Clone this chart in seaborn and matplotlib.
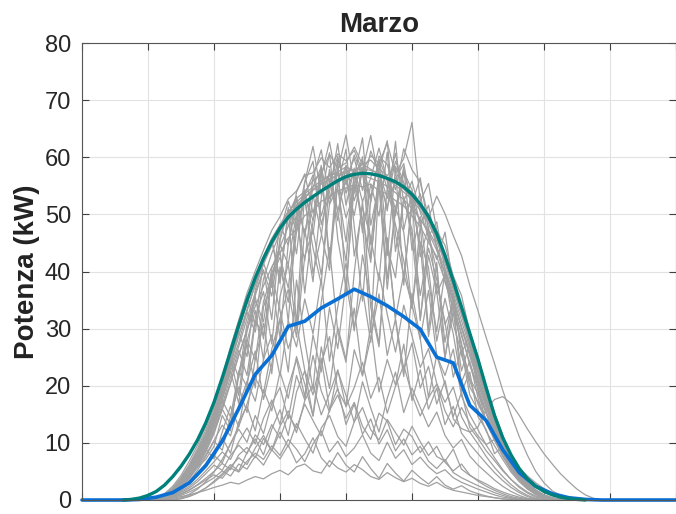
import numpy as np
import pandas as pd
import matplotlib
matplotlib.use("Agg")
import matplotlib.pyplot as plt
import seaborn as sns

# daily profiles, 15 min steps from 06:00 to 19:45
hours = np.arange(6.0, 20.0, 0.25)

clear_days = [
    [0, 0.2, 0.8, 1.8, 3.4, 5.5, 8.0, 11.2,
     15.0, 19.5, 24.8, 30.0, 34.6, 38.8, 42.5, 45.4,
     47.9, 50.0, 51.6, 53.1, 54.4, 55.3, 56.2, 56.9,
     57.5, 57.8, 58.0, 57.7, 57.2, 56.5, 55.6, 54.4,
     53.0, 51.2, 48.9, 45.8, 42.0, 37.5, 32.8, 28.0,
     23.2, 18.6, 14.3, 10.5, 7.4, 4.9, 3.0, 1.7,
     0.9, 0.4, 0.1, 0, 0, 0, 0, 0],
    [0, 0.1, 0.5, 1.4, 2.8, 4.9, 7.5, 10.4,
     14.2, 18.8, 23.6, 28.9, 33.0, 37.9, 41.6, 44.9,
     47.3, 50.1, 52.8, 54.0, 55.9, 57.2, 60.5, 58.1,
     59.0, 61.8, 58.7, 59.5, 57.9, 56.8, 58.4, 55.1,
     53.9, 52.0, 49.3, 46.6, 41.9, 38.4, 33.1, 28.6,
     22.8, 18.9, 13.7, 10.1, 7.0, 4.6, 2.8, 1.5,
     0.7, 0.3, 0.1, 0, 0, 0, 0, 0],
    [0, 0.1, 0.4, 1.1, 2.3, 4.1, 6.3, 9.0,
     12.3, 16.2, 20.6, 25.4, 29.8, 33.9, 37.5, 40.8,
     43.2, 45.9, 47.4, 49.8, 50.6, 52.3, 53.0, 54.1,
     54.6, 55.2, 54.8, 55.3, 54.1, 53.6, 52.4, 51.5,
     49.7, 47.9, 45.1, 42.6, 38.4, 34.9, 30.2, 25.8,
     21.4, 16.9, 13.1, 9.6, 6.7, 4.4, 2.6, 1.4,
     0.6, 0.2, 0.1, 0, 0, 0, 0, 0],
    [0, 0.3, 1.1, 2.4, 4.3, 6.8, 9.6, 12.9,
     17.1, 21.4, 26.8, 31.5, 36.2, 40.1, 43.7, 47.2,
     49.6, 52.7, 54.1, 56.8, 57.3, 59.9, 58.2, 60.6,
     59.4, 61.2, 57.6, 60.3, 58.9, 62.5, 57.1, 59.8,
     66.1, 52.3, 55.4, 47.1, 44.6, 39.2, 35.8, 29.4,
     25.1, 19.7, 15.2, 11.3, 7.9, 5.1, 3.1, 1.8,
     0.9, 0.4, 0.1, 0, 0, 0, 0, 0],
    [0, 0.1, 0.6, 1.5, 2.9, 4.2, 5.8, 7.1,
     9.4, 14.8, 12.1, 22.6, 19.8, 31.4, 28.9, 38.6,
     44.8, 41.2, 50.3, 53.7, 48.9, 55.8, 56.9, 57.4,
     58.3, 57.6, 58.8, 57.9, 57.0, 56.2, 55.1, 53.9,
     52.6, 50.7, 48.4, 45.3, 41.5, 36.9, 32.4, 27.7,
     22.9, 18.1, 13.9, 10.2, 7.1, 4.7, 2.9, 1.6,
     0.8, 0.3, 0.1, 0, 0, 0, 0, 0],
    [0, 0.2, 0.9, 2.0, 3.8, 6.0, 8.6, 11.7,
     15.6, 20.2, 25.1, 30.3, 35.0, 39.1, 42.6, 45.8,
     48.2, 50.5, 52.1, 53.6, 54.8, 55.9, 56.7, 57.3,
     56.1, 49.8, 57.9, 42.3, 55.6, 38.7, 51.2, 46.9,
     33.5, 48.1, 29.7, 41.6, 24.8, 35.2, 18.9, 22.4,
     14.6, 12.3, 8.1, 9.4, 5.2, 3.6, 2.1, 1.2,
     0.6, 0.2, 0.1, 0, 0, 0, 0, 0],
    [0, 0.1, 0.7, 1.7, 3.2, 5.3, 7.8, 10.8,
     14.4, 18.9, 23.9, 28.8, 33.4, 37.6, 41.3, 44.5,
     47.1, 49.3, 51.4, 52.9, 54.2, 55.4, 56.1, 56.8,
     57.2, 57.1, 56.9, 56.3, 55.7, 54.9, 53.8, 52.6,
     51.0, 49.2, 46.8, 43.7, 39.6, 35.1, 30.4, 25.9,
     21.2, 16.8, 12.7, 9.3, 6.4, 4.2, 2.5, 1.3,
     0.6, 0.2, 0, 0, 0, 0, 0, 0],
]

cloudy_days = [
    [0, 0.1, 0.4, 1.0, 2.1, 3.7, 5.9, 8.4,
     11.6, 15.9, 13.2, 21.7, 27.4, 19.6, 33.8, 38.1,
     28.4, 44.9, 51.7, 36.2, 48.8, 58.6, 42.1, 55.3,
     61.4, 47.9, 34.8, 52.6, 59.7, 44.3, 38.9, 53.1,
     46.2, 31.7, 42.8, 36.4, 24.9, 33.1, 27.5, 19.8,
     17.2, 14.1, 10.9, 8.2, 5.6, 3.7, 2.2, 1.1,
     0.5, 0.2, 0, 0, 0, 0, 0, 0],
    [0, 0.2, 0.7, 1.6, 3.0, 4.8, 7.2, 9.9,
     13.5, 17.8, 22.6, 16.9, 27.8, 33.2, 24.5, 39.7,
     43.6, 31.2, 49.5, 53.8, 39.6, 46.2, 57.9, 50.4,
     41.8, 56.7, 63.4, 48.1, 55.2, 36.9, 50.8, 58.3,
     43.7, 49.6, 38.2, 29.5, 40.1, 32.8, 22.6, 27.4,
     19.1, 13.6, 11.8, 8.7, 6.0, 3.9, 2.3, 1.2,
     0.6, 0.2, 0, 0, 0, 0, 0, 0],
    [0, 0.1, 0.3, 0.9, 1.9, 3.3, 5.2, 7.6,
     10.3, 8.7, 14.6, 19.8, 15.3, 24.7, 30.9, 22.1,
     35.6, 41.3, 29.8, 47.5, 38.2, 52.9, 60.8, 45.7,
     37.4, 55.1, 49.3, 41.6, 57.8, 62.9, 46.5, 39.2,
     51.4, 44.8, 28.6, 37.9, 31.2, 21.5, 26.3, 18.4,
     15.7, 12.0, 9.5, 7.1, 4.9, 3.2, 1.9, 1.0,
     0.4, 0.1, 0, 0, 0, 0, 0, 0],
    [0, 0.1, 0.5, 1.2, 2.4, 4.0, 6.1, 8.9,
     7.2, 11.9, 16.4, 12.8, 20.5, 26.1, 17.6, 23.8,
     31.7, 22.4, 38.5, 27.9, 19.3, 34.6, 44.2, 29.5,
     24.1, 39.8, 52.3, 33.7, 26.8, 45.9, 31.4, 21.6,
     36.2, 28.3, 17.9, 25.4, 20.2, 14.6, 18.9, 12.7,
     10.8, 8.6, 6.9, 5.1, 3.6, 2.4, 1.4, 0.7,
     0.3, 0.1, 0, 0, 0, 0, 0, 0],
    [0, 0, 0, 0.1, 0.4, 1.0, 1.9, 3.2,
     4.9, 7.1, 9.8, 12.9, 16.8, 21.3, 18.7, 26.4,
     31.8, 36.9, 28.5, 42.7, 47.3, 39.4, 51.8, 54.6,
     45.2, 56.9, 59.4, 52.1, 60.2, 58.7, 54.3, 61.5,
     57.8, 55.6, 49.4, 53.2, 50.1, 46.3, 42.8, 37.6,
     33.1, 28.4, 23.9, 19.2, 15.0, 11.1, 7.8, 5.0,
     3.0, 1.6, 0.8, 0.3, 0.1, 0, 0, 0],
    [0, 0, 0, 0, 0.2, 0.6, 1.2, 2.1,
     3.3, 4.6, 6.2, 5.1, 8.3, 10.7, 7.9, 12.4,
     15.8, 11.3, 18.9, 22.6, 14.7, 26.8, 19.5, 30.2,
     24.7, 33.6, 21.9, 28.4, 36.1, 25.3, 31.7, 22.8,
     27.5, 19.6, 23.4, 16.8, 20.9, 14.2, 12.5, 11.9,
     12.8, 15.9, 17.6, 18.1, 16.9, 14.8, 12.4, 10.2,
     8.1, 6.3, 4.6, 3.2, 1.9, 0.9, 0.3, 0],
    [0, 0.2, 0.8, 1.9, 3.5, 5.6, 8.2, 11.3,
     15.1, 19.7, 24.9, 18.3, 29.6, 35.8, 40.3, 31.6,
     45.9, 50.7, 43.1, 55.6, 59.3, 48.2, 53.9, 62.4,
     51.6, 58.1, 46.8, 55.3, 49.7, 60.9, 43.5, 52.7,
     47.3, 35.8, 44.1, 38.6, 30.7, 34.2, 26.9, 21.3,
     18.6, 15.2, 11.4, 8.5, 5.8, 3.8, 2.2, 1.1,
     0.5, 0.2, 0, 0, 0, 0, 0, 0],
    [0, 0.1, 0.4, 1.2, 2.5, 4.3, 6.6, 9.4,
     12.8, 16.7, 21.5, 26.2, 21.8, 31.9, 36.5, 27.3,
     40.8, 34.6, 46.9, 52.4, 44.1, 37.8, 56.2, 48.9,
     58.6, 42.7, 51.3, 45.8, 38.4, 54.7, 48.2, 41.9,
     33.6, 45.2, 40.7, 27.8, 35.3, 29.1, 20.6, 24.3,
     17.9, 13.4, 10.6, 7.8, 5.4, 3.5, 2.0, 1.0,
     0.4, 0.1, 0, 0, 0, 0, 0, 0],
    [0, 0.1, 0.6, 1.4, 2.7, 4.5, 6.9, 9.7,
     13.1, 17.4, 14.6, 22.3, 28.1, 24.5, 34.8, 39.2,
     42.5, 37.1, 48.6, 41.9, 53.4, 46.7, 40.2, 55.9,
     49.4, 53.8, 60.1, 44.7, 57.2, 50.6, 62.8, 47.3,
     54.1, 42.6, 47.9, 36.1, 39.5, 30.8, 25.7, 28.9,
     20.4, 16.3, 12.5, 9.2, 6.3, 4.1, 2.4, 1.2,
     0.5, 0.2, 0, 0, 0, 0, 0, 0],
    [0, 0.2, 0.9, 2.1, 3.9, 6.2, 9.0, 12.3,
     16.2, 21.1, 26.4, 31.2, 35.9, 30.4, 42.1, 45.6,
     38.7, 49.8, 53.2, 46.1, 56.4, 61.3, 52.7, 57.6,
     63.9, 55.4, 58.2, 52.9, 59.6, 56.1, 49.8, 57.3,
     52.4, 48.6, 50.2, 44.3, 40.6, 36.2, 31.4, 26.7,
     22.1, 17.5, 13.4, 9.9, 6.9, 4.5, 2.7, 1.4,
     0.7, 0.3, 0.1, 0, 0, 0, 0, 0],
    [0, 0.1, 0.6, 1.5, 2.9, 4.8, 7.3, 10.2,
     13.9, 18.2, 23.1, 27.6, 32.9, 29.4, 38.7, 43.2,
     46.8, 52.3, 48.1, 55.7, 61.9, 53.4, 57.2, 50.6,
     56.3, 59.8, 54.2, 61.1, 57.4, 52.8, 59.3, 55.6,
     51.9, 56.4, 47.2, 44.5, 38.1, 33.7, 29.2, 23.6,
     19.4, 15.1, 11.6, 8.4, 5.9, 3.8, 2.2, 1.1,
     0.5, 0.2, 0, 0, 0, 0, 0, 0],
    [0, 0.1, 0.4, 1.1, 2.2, 3.9, 6.0, 8.7,
     12.0, 15.8, 20.4, 25.3, 29.7, 34.9, 31.2, 40.6,
     44.3, 47.9, 52.6, 46.4, 54.8, 58.3, 51.7, 59.6,
     55.2, 60.4, 56.8, 53.1, 58.9, 54.6, 60.7, 52.3,
     55.8, 50.4, 46.1, 48.7, 40.3, 35.6, 30.1, 25.2,
     20.7, 16.2, 12.2, 8.9, 6.2, 4.0, 2.4, 1.2,
     0.6, 0.2, 0, 0, 0, 0, 0, 0],
    [0, 0.2, 0.7, 1.7, 3.2, 5.2, 7.8, 10.9,
     14.7, 19.3, 24.2, 29.5, 25.1, 36.8, 41.5, 37.2,
     48.3, 44.6, 53.9, 57.1, 50.2, 56.6, 62.7, 54.9,
     58.5, 52.4, 57.7, 63.8, 55.9, 51.3, 56.2, 58.9,
     50.7, 53.6, 45.8, 42.1, 46.9, 37.4, 32.6, 27.3,
     22.5, 17.6, 13.3, 9.7, 6.7, 4.3, 2.6, 1.3,
     0.6, 0.2, 0, 0, 0, 0, 0, 0],
    [0, 0.1, 0.5, 1.3, 2.6, 4.4, 6.8, 9.6,
     13.2, 17.5, 22.4, 26.9, 31.8, 36.3, 40.1, 35.7,
     45.4, 50.8, 47.3, 53.5, 56.9, 49.7, 55.1, 60.2,
     53.7, 57.9, 52.2, 56.4, 61.6, 55.8, 50.9, 57.5,
     54.3, 48.2, 51.6, 43.9, 39.8, 34.5, 28.7, 24.1,
     19.8, 15.5, 11.9, 8.7, 6.1, 3.9, 2.3, 1.2,
     0.5, 0.2, 0, 0, 0, 0, 0, 0],
    [0, 0.2, 0.8, 1.8, 3.4, 5.5, 8.1, 11.1,
     14.9, 19.6, 24.6, 29.8, 34.3, 38.6, 42.2, 45.5,
     37.9, 51.2, 30.6, 54.3, 46.5, 57.8, 41.3, 59.1,
     35.7, 57.6, 48.4, 29.3, 56.1, 42.8, 58.2, 37.6,
     53.2, 31.4, 46.3, 40.2, 27.6, 36.1, 25.3, 20.9,
     16.8, 13.9, 10.4, 7.6, 5.3, 3.4, 2.0, 1.0,
     0.4, 0.1, 0, 0, 0, 0, 0, 0],
]

overcast_days = [
    [0, 0, 0.1, 0.3, 0.6, 0.9, 1.3, 1.7,
     2.2, 2.6, 3.1, 2.8, 3.5, 4.1, 3.7, 4.6,
     5.2, 4.4, 5.8, 6.3, 5.1, 4.7, 6.9, 5.6,
     4.9, 6.2, 5.3, 4.1, 3.6, 4.8, 3.9, 3.2,
     3.8, 2.9, 2.4, 3.1, 2.2, 1.7, 1.4, 1.1,
     0.8, 0.6, 0.4, 0.2, 0.1, 0, 0, 0,
     0, 0, 0, 0, 0, 0, 0, 0],
    [0, 0.1, 0.3, 0.7, 1.3, 2.1, 3.2, 4.6,
     6.1, 5.2, 7.8, 9.6, 8.1, 11.4, 9.7, 13.2,
     10.8, 14.9, 12.6, 16.8, 13.9, 11.2, 15.7, 18.4,
     14.3, 17.1, 12.9, 10.6, 15.2, 13.8, 9.7, 12.4,
     11.1, 8.3, 10.2, 7.6, 6.8, 8.9, 5.4, 4.3,
     3.5, 2.8, 2.0, 1.4, 0.9, 0.5, 0.2, 0.1,
     0, 0, 0, 0, 0, 0, 0, 0],
    [0, 0.1, 0.4, 1.0, 1.9, 3.1, 4.7, 6.4,
     8.5, 10.9, 8.2, 13.7, 16.4, 12.1, 19.3, 15.6,
     22.4, 17.8, 25.1, 20.3, 14.7, 23.9, 28.6, 19.2,
     16.5, 26.3, 21.7, 30.4, 18.9, 24.6, 20.1, 27.3,
     17.4, 22.8, 15.9, 19.6, 13.2, 16.4, 11.7, 9.8,
     8.1, 6.4, 4.8, 3.4, 2.2, 1.3, 0.6, 0.2,
     0, 0, 0, 0, 0, 0, 0, 0],
    [0, 0, 0.2, 0.5, 1.0, 1.7, 2.6, 3.5,
     4.4, 3.8, 5.6, 4.9, 6.8, 8.2, 7.1, 9.5,
     7.8, 10.6, 8.9, 6.7, 9.8, 12.1, 8.4, 10.3,
     7.6, 9.1, 11.4, 8.2, 6.9, 10.1, 7.3, 8.8,
     6.2, 7.5, 5.8, 4.6, 5.3, 3.9, 3.1, 2.5,
     1.9, 1.4, 0.9, 0.5, 0.3, 0.1, 0, 0,
     0, 0, 0, 0, 0, 0, 0, 0],
    [0, 0.1, 0.3, 0.8, 1.5, 2.4, 3.6, 5.1,
     6.7, 8.4, 7.1, 10.2, 12.6, 9.8, 14.3, 17.5,
     13.2, 19.8, 24.6, 18.1, 28.9, 22.4, 33.7, 26.5,
     38.2, 29.6, 42.9, 35.1, 27.4, 45.8, 31.9, 39.6,
     34.2, 28.1, 36.7, 25.3, 21.8, 26.4, 18.2, 14.9,
     12.3, 9.6, 7.4, 5.3, 3.6, 2.2, 1.2, 0.5,
     0.2, 0, 0, 0, 0, 0, 0, 0],
    [0, 0, 0, 0.1, 0.3, 0.7, 1.3, 2.1,
     3.1, 4.3, 5.8, 7.4, 6.2, 9.1, 11.3, 8.7,
     12.9, 15.6, 11.8, 17.4, 20.2, 14.9, 18.6, 22.8,
     16.3, 19.7, 24.1, 17.8, 21.5, 15.2, 19.9, 23.6,
     18.4, 14.7, 17.9, 20.3, 15.6, 12.8, 16.2, 13.5,
     11.2, 9.7, 10.6, 8.4, 7.1, 5.6, 4.2, 3.0,
     2.0, 1.2, 0.6, 0.2, 0, 0, 0, 0],
    [0, 0.1, 0.5, 1.2, 2.3, 3.8, 5.7, 7.9,
     10.4, 13.1, 11.2, 16.5, 20.8, 17.3, 24.6, 28.9,
     21.7, 31.4, 26.8, 35.2, 29.1, 38.7, 24.3, 33.8,
     41.5, 30.2, 36.9, 27.6, 39.8, 32.5, 25.9, 34.1,
     28.7, 23.2, 26.5, 20.4, 17.1, 19.8, 14.6, 11.9,
     9.8, 7.6, 5.7, 4.1, 2.7, 1.6, 0.8, 0.3,
     0.1, 0, 0, 0, 0, 0, 0, 0],
    [0, 0, 0.2, 0.6, 1.1, 1.8, 2.7, 3.8,
     5.0, 6.4, 5.3, 7.9, 9.2, 7.4, 10.8, 8.6,
     11.9, 9.3, 13.4, 10.7, 8.2, 12.6, 14.8, 11.1,
     9.4, 13.7, 16.2, 12.3, 10.5, 14.1, 11.8, 9.6,
     12.9, 10.2, 7.8, 9.4, 6.6, 5.1, 6.3, 4.4,
     3.3, 2.4, 1.7, 1.1, 0.6, 0.3, 0.1, 0,
     0, 0, 0, 0, 0, 0, 0, 0],
    [0, 0, 0.1, 0.4, 0.8, 1.4, 2.1, 3.0,
     3.9, 5.1, 4.2, 6.3, 5.4, 7.7, 6.1, 8.8,
     7.2, 9.6, 6.5, 8.1, 10.9, 7.4, 5.8, 8.3,
     6.1, 4.9, 7.6, 5.5, 3.8, 6.4, 4.7, 3.3,
     5.2, 3.9, 2.8, 4.1, 2.6, 1.9, 2.5, 1.6,
     1.1, 0.7, 0.4, 0.2, 0.1, 0, 0, 0,
     0, 0, 0, 0, 0, 0, 0, 0],
    [0, 0.2, 0.8, 1.9, 3.6, 5.8, 8.5, 11.6,
     15.4, 20.1, 25.3, 21.4, 30.8, 35.6, 28.2, 39.4,
     33.1, 26.5, 30.9, 22.7, 18.4, 24.8, 15.9, 19.6,
     13.2, 16.8, 11.5, 14.2, 9.8, 12.3, 8.6, 10.7,
     7.9, 9.4, 6.8, 5.5, 7.1, 4.8, 3.9, 3.2,
     2.5, 1.9, 1.3, 0.8, 0.4, 0.2, 0.1, 0,
     0, 0, 0, 0, 0, 0, 0, 0],
    [0, 0.1, 0.3, 0.9, 1.7, 2.8, 4.2, 5.9,
     7.8, 6.5, 9.9, 12.4, 10.1, 14.8, 11.6, 16.9,
     19.7, 14.2, 21.8, 17.5, 25.3, 19.1, 15.4, 22.6,
     18.3, 13.6, 20.7, 16.1, 11.9, 17.8, 22.4, 15.3,
     19.6, 16.2, 12.8, 15.4, 11.3, 9.1, 10.6, 7.7,
     6.1, 4.8, 3.5, 2.4, 1.5, 0.8, 0.3, 0.1,
     0, 0, 0, 0, 0, 0, 0, 0],
]

# clear-sky model (teal)
model_hours = [5.25, 5.5, 5.75, 6.0, 6.25, 6.5, 6.75, 7.0, 7.25, 7.5, 7.75,
               8.0, 8.25, 8.5, 8.75, 9.0, 9.25, 9.5, 9.75, 10.0, 10.25, 10.5,
               10.75, 11.0, 11.25, 11.5, 11.75, 12.0, 12.25, 12.5, 12.75, 13.0,
               13.25, 13.5, 13.75, 14.0, 14.25, 14.5, 14.75, 15.0, 15.25, 15.5,
               15.75, 16.0, 16.25, 16.5, 16.75, 17.0, 17.25, 17.5, 17.75, 18.0,
               18.25, 18.5, 18.75, 19.0, 19.25]
model_power = [0, 0.1, 0.35, 0.8, 1.5, 2.6, 4.1, 5.9, 8.0, 10.5, 13.5,
               17.1, 21.4, 26.0, 30.6, 35.0, 38.9, 42.3, 45.2, 47.6, 49.5, 50.9,
               52.1, 53.1, 54.1, 55.0, 55.9, 56.6, 57.0, 57.2, 57.1, 56.8,
               56.3, 55.7, 54.8, 53.5, 51.8, 49.6, 46.6, 42.8, 38.4, 33.8,
               29.2, 24.6, 19.6, 14.8, 10.9, 7.9, 5.5, 3.7, 2.4, 1.5,
               0.9, 0.5, 0.25, 0.1, 0]

# mean profile (blue)
mean_hours = [4.0, 5.25, 5.75, 6.25, 6.75, 7.25, 7.75, 8.25, 8.75, 9.25, 9.75,
              10.25, 10.75, 11.25, 11.75, 12.25, 12.75, 13.25, 13.75, 14.25,
              14.75, 15.25, 15.75, 16.25, 16.75, 17.25, 17.75, 18.25, 18.75,
              19.25, 19.75, 22.0]
mean_power = [0, 0, 0.1, 0.5, 1.3, 3.0, 6.0, 10.3, 16.0, 22.0, 25.3,
              30.4, 31.3, 33.6, 35.2, 36.9, 35.6, 34.0, 32.1, 29.9,
              25.0, 24.0, 16.6, 13.9, 8.8, 4.8, 2.4, 1.1, 0.4,
              0.1, 0, 0]

rows = []
day = 0
for group in (clear_days, cloudy_days, overcast_days):
    for vals in group:
        for h, v in zip(hours, vals):
            rows.append((day, h, v))
        day += 1
df = pd.DataFrame(rows, columns=["day", "hour", "power"])

sns.set_theme(style="white")
plt.rcParams["font.family"] = ["Liberation Sans", "DejaVu Sans"]

fig = plt.figure(figsize=(6.76, 5.14), dpi=100)
ax = fig.add_axes([82 / 676, 14 / 514, 594 / 676, 457 / 514])

sns.lineplot(data=df, x="hour", y="power", units="day", estimator=None,
             color="#a0a0a0", linewidth=0.9, ax=ax, legend=False)
sns.lineplot(x=mean_hours, y=mean_power, color="#0a70d4", linewidth=2.6,
             ax=ax, clip_on=False)
sns.lineplot(x=model_hours, y=model_power, color="#00807a", linewidth=2.4,
             ax=ax, clip_on=False)

ax.set_xlim(4, 22)
ax.set_ylim(0, 80)
ax.set_xticks(np.arange(4, 23, 2))
ax.set_xticklabels([])
ax.set_yticks(range(0, 81, 10))
ax.grid(True, color="#e2e2e2", linewidth=0.8)
ax.set_axisbelow(True)
ax.tick_params(direction="in", length=5, width=0.8, color="#404040",
               labelsize=17, labelcolor="#262626", pad=8,
               top=True, right=True, left=True, bottom=True)
for s in ax.spines.values():
    s.set_visible(True)
    s.set_color("#555555")
    s.set_linewidth(0.8)

ax.set_title("Marzo", fontsize=20, fontweight="bold", pad=8)
ax.set_xlabel("")
ax.set_ylabel("Potenza (kW)", fontsize=20, fontweight="bold", color="#222222")
ax.yaxis.set_label_coords(-0.07, 0.5)

fig.savefig("out.png", dpi=100)
